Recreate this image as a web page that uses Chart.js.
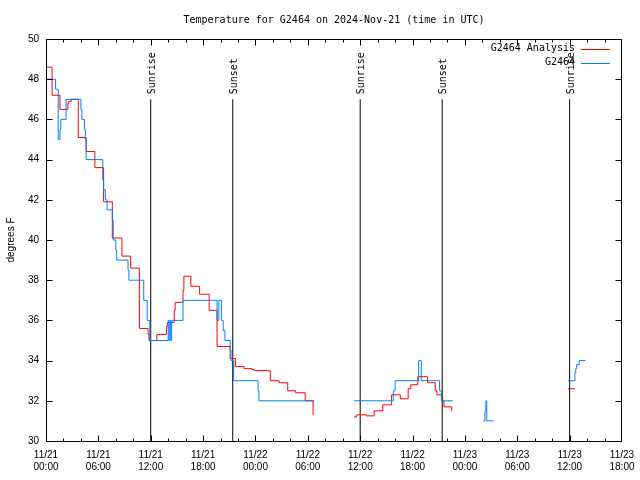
<!DOCTYPE html>
<html>
<head>
<meta charset="utf-8">
<script src="https://cdn.jsdelivr.net/npm/chart.js@4/dist/chart.umd.min.js"></script>
<style>
html,body{margin:0;padding:0;background:#fff;}
canvas{display:block;}
</style>
</head>
<body>
<canvas id="c" width="640" height="480"></canvas>
<script>
// Hours since 11/21 00:00 UTC
const analysisHours = [0.0,0.7,1.6,2.5,2.6,2.9,3.7,4.6,5.6,6.6,7.6,8.7,9.7,10.7,11.7,11.8,12.7,13.8,13.9,14.7,14.8,15.7,15.8,16.6,17.6,18.7,19.6,21.1,21.7,22.7,23.6,23.9,25.7,26.7,27.7,28.6,29.7,30.6,
  33.0,
  35.3,35.6,36.7,37.6,38.6,39.6,40.6,41.5,41.8,42.6,43.7,44.6,44.8,45.4,45.6,46.5,
  50.0,
  59.8,60.6];
const analysisTemps = [48.6,47.2,46.5,46.8,46.9,47.0,45.1,44.4,43.6,41.9,40.1,39.2,38.6,35.6,35.3,35.0,35.3,35.7,35.9,36.5,36.9,37.5,38.2,37.7,37.3,36.5,34.7,34.1,33.7,33.6,33.55,33.5,33.0,32.9,32.5,32.4,32.0,31.3,
  null,
  31.2,31.3,31.25,31.5,31.8,32.3,32.1,32.6,32.8,33.2,32.9,32.5,32.3,32.0,31.7,31.5,
  null,
  32.6,32.6];

const obsHours = [0.0,1.1,1.4,1.6,1.7,2.3,4.0,4.1,4.4,4.5,4.6,6.5,6.6,6.8,7.0,7.6,7.7,8.0,8.1,9.4,9.5,11.2,11.6,11.9,14.0,14.1,14.2,14.3,14.4,15.7,19.6,19.8,20.1,20.3,20.5,21.1,21.2,21.5,24.3,24.4,30.7,
  33.0,
  35.3,39.8,40.0,42.7,43.0,45.1,45.3,46.6,
  48.0,
  50.1,50.3,50.4,50.5,51.3,
  55.0,
  59.8,60.6,60.7,60.8,61.1,61.8];
const obsTemps = [48.0,47.5,45.0,45.5,46.0,47.0,46.5,46.0,45.5,45.0,44.0,43.0,42.5,42.0,41.5,41.0,40.0,39.5,39.0,38.5,38.0,37.0,36.0,35.0,36.0,35.0,36.0,35.0,36.0,37.0,36.0,37.0,36.0,35.5,35.0,34.5,34.0,33.0,32.5,32.0,32.0,
  null,
  32.0,32.5,33.0,34.0,33.0,32.5,32.0,32.0,
  null,
  31.0,31.5,32.0,31.0,31.0,
  null,
  33.0,33.4,33.6,33.8,34.0,34.0];

const eventHours = [12.0, 21.4, 36.0, 45.4, 60.0];
const eventNames = ['Sunrise','Sunset','Sunrise','Sunset','Sunrise'];
const eventLineBottom = 30;
const eventLineTop = 47;

const xTickLabels = ['11/21\n00:00','11/21\n06:00','11/21\n12:00','11/21\n18:00',
                     '11/22\n00:00','11/22\n06:00','11/22\n12:00','11/22\n18:00',
                     '11/23\n00:00','11/23\n06:00','11/23\n12:00','11/23\n18:00'];
const seriesNames = ['G2464 Analysis','G2464'];
const seriesColors = ['#ff0000','#0080ff'];
const titleText = 'Temperature for G2464 on 2024-Nov-21 (time in UTC)';
const yTitle = 'degrees F';

const MONO = '"DejaVu Sans Mono", "Liberation Mono", monospace';
const SANS = '"Liberation Sans", Arial, sans-serif';

const eventData = [];
eventHours.forEach(h => {
  eventData.push({x:h, y:eventLineBottom}, {x:h, y:eventLineTop}, {x:h, y:null});
});

const gnuPlugin = {
  id: 'gnu',
  afterDatasetsDraw(chart) {
    const {ctx, chartArea: a, scales: {x, y}} = chart;
    const L = Math.round(a.left) + 0.5, R = Math.round(a.right) - 0.5;
    const T = Math.round(a.top) + 0.5, B = Math.round(a.bottom) + 0.5;
    ctx.save();
    ctx.strokeStyle = '#000';
    ctx.lineWidth = 1;
    // border box
    ctx.strokeRect(L, T, R - L, B - T);
    ctx.beginPath();
    // y ticks
    for (let v = y.min; v <= y.max; v += 2) {
      const py = Math.round(y.getPixelForValue(v)) + 0.5;
      ctx.moveTo(L, py); ctx.lineTo(L + 6, py);
      ctx.moveTo(R, py); ctx.lineTo(R - 6, py);
    }
    // x ticks (major 6h, minor 2h)
    for (let h = x.min; h <= x.max; h += 2) {
      let px = Math.round(x.getPixelForValue(h)) + 0.5;
      if (px > R) px = R;
      const len = (h % 6 === 0) ? 6 : 3;
      ctx.moveTo(px, B); ctx.lineTo(px, B - len);
      ctx.moveTo(px, T); ctx.lineTo(px, T + len);
    }
    ctx.stroke();

    // title
    ctx.fillStyle = '#000';
    ctx.font = '10px ' + MONO;
    ctx.textAlign = 'center';
    ctx.textBaseline = 'middle';
    ctx.fillText(titleText, (a.left + a.right) / 2, 20);

    // legend
    ctx.textAlign = 'right';
    seriesNames.forEach((name, i) => {
      const ly = a.top + 9.5 + i * 14;
      ctx.fillStyle = '#000';
      ctx.fillText(name, a.right - 47, ly);
      ctx.strokeStyle = seriesColors[i];
      ctx.beginPath();
      ctx.moveTo(a.right - 41, Math.round(ly) + 0.5);
      ctx.lineTo(a.right - 12, Math.round(ly) + 0.5);
      ctx.stroke();
    });

    // event labels
    ctx.fillStyle = '#000';
    eventHours.forEach((h, i) => {
      const px = x.getPixelForValue(h);
      const py = y.getPixelForValue(eventLineTop);
      ctx.save();
      ctx.translate(px + 1.5, py - 5);
      ctx.rotate(-Math.PI / 2);
      ctx.textAlign = 'left';
      ctx.textBaseline = 'middle';
      ctx.fillText(eventNames[i], 0, 0);
      ctx.restore();
    });
    ctx.restore();
  }
};

new Chart(document.getElementById('c'), {
  type: 'line',
  data: {
    datasets: [
      {
        label: seriesNames[1],
        data: obsHours.map((h, i) => ({x: h, y: obsTemps[i]})),
        borderColor: seriesColors[1],
        borderWidth: 1,
        pointRadius: 0,
        stepped: 'before',
        spanGaps: false,
        fill: false
      },
      {
        label: seriesNames[0],
        data: analysisHours.map((h, i) => ({x: h, y: analysisTemps[i]})),
        borderColor: seriesColors[0],
        borderWidth: 1,
        pointRadius: 0,
        stepped: 'before',
        spanGaps: false,
        fill: false
      },
      {
        label: 'events',
        data: eventData,
        borderColor: '#000',
        borderWidth: 1,
        pointRadius: 0,
        spanGaps: false,
        fill: false
      }
    ]
  },
  options: {
    responsive: false,
    animation: false,
    events: [],
    layout: {padding: {top: 39, right: 18, left: 0, bottom: 0}},
    plugins: {
      legend: {display: false},
      title: {display: false},
      tooltip: {enabled: false}
    },
    scales: {
      x: {
        type: 'linear',
        min: 0,
        max: 66,
        grid: {display: false, drawTicks: false},
        border: {display: false},
        ticks: {
          stepSize: 6,
          autoSkip: false,
          maxRotation: 0,
          padding: 8,
          color: '#000',
          font: {family: SANS, size: 10, lineHeight: 1.2},
          callback: (v, i) => xTickLabels[i].split('\n')
        },
        afterFit: s => { s.height = 39; s.paddingLeft = 0; s.paddingRight = 0; }
      },
      y: {
        min: 30,
        max: 50,
        grid: {display: false, drawTicks: false},
        border: {display: false},
        ticks: {
          stepSize: 2,
          padding: 7,
          color: '#000',
          font: {family: SANS, size: 10}
        },
        title: {
          display: true,
          text: yTitle,
          color: '#000',
          font: {family: SANS, size: 10},
          padding: {top: 5, bottom: 0}
        },
        afterFit: s => { s.width = 46; s.paddingTop = 0; s.paddingBottom = 0; }
      }
    }
  },
  plugins: [gnuPlugin]
});
</script>
</body>
</html>
